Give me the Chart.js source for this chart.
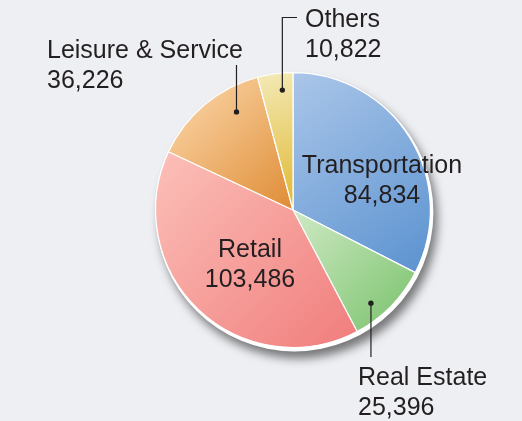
<!DOCTYPE html>
<html>
<head>
<meta charset="utf-8">
<script src="https://cdn.jsdelivr.net/npm/chart.js@4/dist/chart.umd.min.js"></script>
<style>
  html, body { margin: 0; padding: 0; background: #eeeff3; }
  #wrap { width: 522px; height: 421px; }
</style>
</head>
<body>
<div id="wrap"><canvas id="pie" width="522" height="421"></canvas></div>
<script>
const categories = ["Transportation", "Real Estate", "Retail", "Leisure & Service", "Others"];
const values = [84834, 25396, 103486, 36226, 10822];

// light -> dark gradient stops for each slice
const lightColors = ["#aac6e9", "#cfe9c4", "#fcc0b9", "#fddbb0", "#f4eab8"];
const darkColors = ["#5b92d0", "#78c26b", "#f07d7c", "#df8c35", "#dfb72f"];

// how each label is placed (inside the slice, or outside with a leader line)
const labelSpots = [
  { inside: true, x: 382, y: 173 },
  { inside: false, x: 358, y: 385, t: 0.655, rf: 0.884, lineTo: [[371, 357]] },
  { inside: true, x: 250, y: 257 },
  { inside: false, x: 47, y: 58, t: 0.70, rf: 0.824, lineTo: [[236, 65]] },
  { inside: false, x: 305, y: 27, t: 0.66, rf: 0.876, lineTo: [[282, 17.5], [297, 17.5]] },
];

const fmt = (v) => v.toLocaleString("en-US");

const sliceGradient = function (ctx) {
  const i = ctx.dataIndex;
  const chart = ctx.chart;
  const ca = chart.chartArea;
  if (!ca) return darkColors[i];
  const cx = (ca.left + ca.right) / 2;
  const cy = (ca.top + ca.bottom) / 2;
  const r = (Math.min(ca.width, ca.height) - 1) / 2;
  const total = values.reduce((a, b) => a + b, 0);
  let before = 0;
  for (let k = 0; k < i; k++) before += values[k];
  const a0 = -Math.PI / 2 + (before / total) * Math.PI * 2;
  const a1 = a0 + (values[i] / total) * Math.PI * 2;
  let minX = cx, maxX = cx, minY = cy, maxY = cy;
  for (let s = 0; s <= 40; s++) {
    const a = a0 + (a1 - a0) * s / 40;
    const px = cx + r * Math.cos(a), py = cy + r * Math.sin(a);
    minX = Math.min(minX, px); maxX = Math.max(maxX, px);
    minY = Math.min(minY, py); maxY = Math.max(maxY, py);
  }
  const g = chart.ctx.createLinearGradient(minX, minY, maxX, maxY);
  g.addColorStop(0, lightColors[i]);
  g.addColorStop(1, darkColors[i]);
  return g;
};

// white rim + soft drop shadow under the pie
const pieShadow = {
  id: "pieShadow",
  beforeDatasetsDraw(chart) {
    const arc = chart.getDatasetMeta(0).data[0];
    if (!arc) return;
    const c = chart.ctx;
    c.save();
    c.shadowColor = "rgba(0,0,0,0.5)";
    c.shadowBlur = 10;
    c.shadowOffsetX = 4;
    c.shadowOffsetY = 7;
    c.fillStyle = "#ffffff";
    c.beginPath();
    c.arc(arc.x + 1.5, arc.y + 2.5, arc.outerRadius + 1.5, 0, Math.PI * 2);
    c.fill();
    c.restore();
  },
};

const pieLabels = {
  id: "pieLabels",
  afterDatasetsDraw(chart) {
    const c = chart.ctx;
    const arcs = chart.getDatasetMeta(0).data;
    c.save();
    c.font = "25px 'Liberation Sans', Arial, sans-serif";
    c.fillStyle = "#231f20";
    c.strokeStyle = "#231f20";
    c.textBaseline = "alphabetic";
    arcs.forEach((arc, i) => {
      const spot = labelSpots[i];
      if (spot.inside) {
        c.textAlign = "center";
        c.fillText(categories[i], spot.x, spot.y);
        c.fillText(fmt(values[i]), spot.x, spot.y + 30);
        return;
      }
      const a = arc.startAngle + (arc.endAngle - arc.startAngle) * spot.t;
      const dx = arc.x + Math.cos(a) * arc.outerRadius * spot.rf;
      const dy = arc.y + Math.sin(a) * arc.outerRadius * spot.rf;
      c.lineWidth = 1.2;
      c.beginPath();
      c.moveTo(dx, dy);
      c.lineTo(dx, spot.lineTo[0][1]);
      for (let k = 1; k < spot.lineTo.length; k++) c.lineTo(spot.lineTo[k][0], spot.lineTo[k][1]);
      c.stroke();
      c.beginPath();
      c.arc(dx, dy, 2.7, 0, Math.PI * 2);
      c.fill();
      c.textAlign = "left";
      c.fillText(categories[i], spot.x, spot.y);
      c.fillText(fmt(values[i]), spot.x, spot.y + 30);
    });
    c.restore();
  },
};

new Chart(document.getElementById("pie"), {
  type: "pie",
  data: {
    labels: categories,
    datasets: [
      {
        data: values,
        backgroundColor: sliceGradient,
        borderColor: "#ffffff",
        borderWidth: 1.2,
      },
    ],
  },
  options: {
    responsive: false,
    animation: false,
    events: [],
    layout: { padding: { left: 155, right: 91, top: 72, bottom: 73 } },
    plugins: {
      legend: { display: false },
      tooltip: { enabled: false },
    },
  },
  plugins: [pieShadow, pieLabels],
});
</script>
</body>
</html>
